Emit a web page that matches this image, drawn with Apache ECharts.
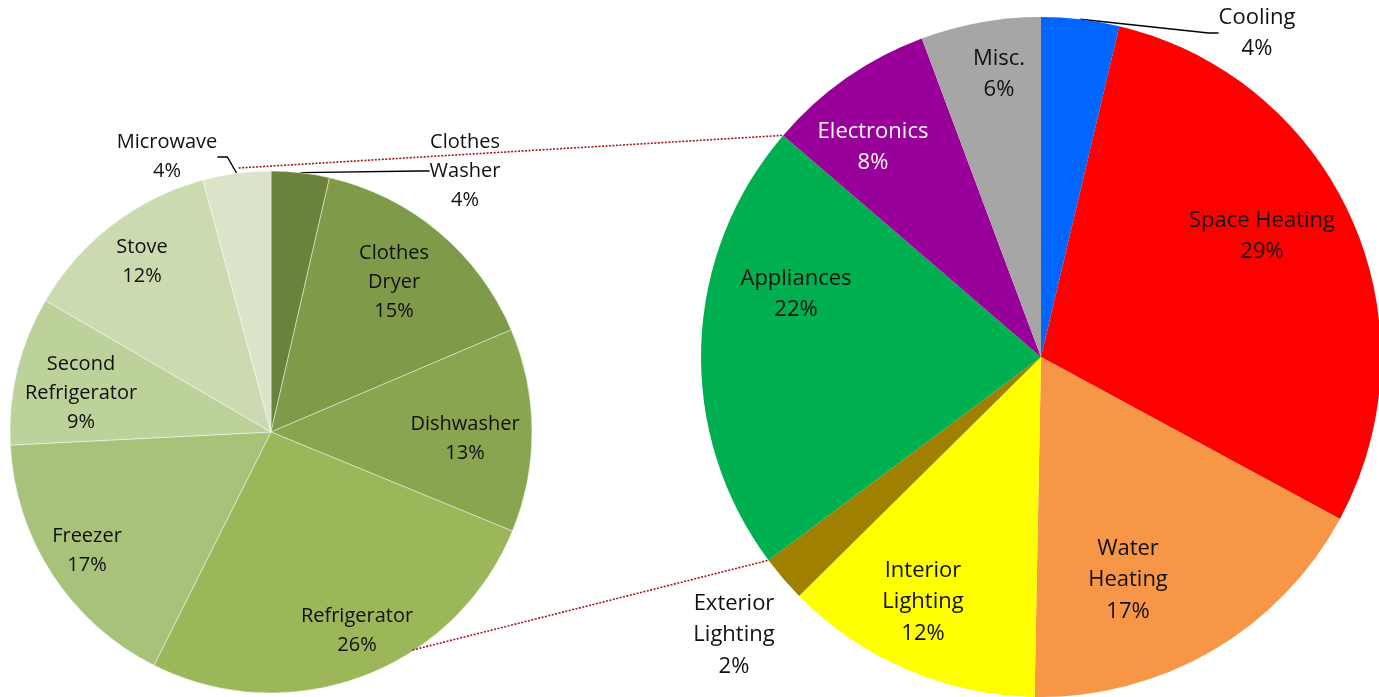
<!DOCTYPE html>
<html><head><meta charset="utf-8">
<script src="https://cdn.jsdelivr.net/npm/echarts@6/dist/echarts.min.js"></script>
<style>html,body{margin:0;padding:0;background:#fff}#chart{width:1379px;height:697px}</style>
</head><body><div id="chart"></div>
<script>
// ---- data ----
const leftCategories = ['Clothes\nWasher','Clothes\nDryer','Dishwasher','Refrigerator','Freezer','Second\nRefrigerator','Stove','Microwave'];
const leftValues = [3.6, 15.0, 12.6, 26.2, 16.8, 9.2, 12.4, 4.2];
const rightCategories = ['Cooling','Space Heating','Water\nHeating','Interior\nLighting','Exterior\nLighting','Appliances','Electronics','Misc.'];
const rightValues = [3.7, 29.2, 17.4, 12.3, 2.2, 21.5, 8.0, 5.7];

// ---- styles / layout ----
const leftColors = ['#6A823A','#7F9A48','#89A54F','#9BB75A','#A9C279','#BDD19B','#CCDAB1','#DAE4C9'];
const rightColors = ['#0066FF','#FF0000','#F79646','#FFFF00','#A08000','#00B050','#990099','#A6A6A6'];
const leftPie = {center:[271,432], r:261};
const rightPie = {center:[1041,357], r:340};
const leftLabelAt = [[465,171],[394,282],[465,439],[357,631],[87,551],[81,393],[142,262],[167,157]];
const rightLabelAt = [[1257,33],[1262,236],[1128,580],[923,602],[734,635],[796,294],[873,147],[999,74]];
const leftLeader = [true,false,false,false,false,false,false,true];
const rightLeader = [true,false,false,false,false,false,false,false];
const rightLabelColor = ['#111','#111','#111','#111','#111','#111','#ffffff','#111'];
const linkSlice = 5; // Appliances (index in right pie) is broken out into left pie
const leftLinkAngles = [353, 147];
const leftLinkR = [266, 260];

function polar(c, r, deg){ const a = deg*Math.PI/180; return [c[0] + r*Math.sin(a), c[1] - r*Math.cos(a)]; }

const total = rightValues.reduce((a,b)=>a+b,0);
let cumBefore = 0; for (let i=0;i<linkSlice;i++) cumBefore += rightValues[i];
const aStart = cumBefore/total*360, aEnd = (cumBefore+rightValues[linkSlice])/total*360;
const pRight1 = polar(rightPie.center, rightPie.r, aEnd);
const pRight2 = polar(rightPie.center, rightPie.r, aStart);
const pLeft1 = polar(leftPie.center, leftLinkR[0], leftLinkAngles[0]);
const pLeft2 = polar(leftPie.center, leftLinkR[1], leftLinkAngles[1]);

const fmt = p => p.name + '\n' + Math.round(p.value) + '%';

const leftData = leftCategories.map((name,i)=>({
  name, value: leftValues[i],
  itemStyle:{color:leftColors[i]},
  label:{position: leftLeader[i] ? 'outside' : 'inside'},
  labelLine:{show: leftLeader[i]}
}));
const rightData = rightCategories.map((name,i)=>({
  name, value: rightValues[i],
  itemStyle:{color:rightColors[i]},
  label:{position: (rightLeader[i] || i===4) ? 'outside' : 'inside', color: rightLabelColor[i]},
  labelLine:{show: rightLeader[i]}
}));

const chart = echarts.init(document.getElementById('chart'), null, {renderer:'canvas'});
chart.setOption({
  animation:false,
  backgroundColor:'#ffffff',
  graphic:[
    {type:'line', shape:{x1:pLeft1[0],y1:pLeft1[1],x2:pRight1[0],y2:pRight1[1]}, style:{stroke:'#A0191E', lineWidth:1.6, lineDash:[2,1.5]}, z:10},
    {type:'line', shape:{x1:pLeft2[0],y1:pLeft2[1],x2:pRight2[0],y2:pRight2[1]}, style:{stroke:'#A0191E', lineWidth:1.6, lineDash:[2,1.5]}, z:10}
  ],
  series:[
    {
      type:'pie', center:leftPie.center, radius:leftPie.r, startAngle:90, clockwise:true,
      avoidLabelOverlap:false, silent:true,
      itemStyle:{borderColor:'rgba(255,255,255,0.55)', borderWidth:0.8},
      label:{formatter:fmt, fontFamily:'Open Sans', fontSize:20, lineHeight:29, color:'#111', align:'center'},
      labelLine:{lineStyle:{color:'#000', width:1.4}, length:10, length2:10, smooth:false},
      labelLayout: p => ({x:leftLabelAt[p.dataIndex][0], y:leftLabelAt[p.dataIndex][1], align:'center', verticalAlign:'middle'}),
      data:leftData
    },
    {
      type:'pie', center:rightPie.center, radius:rightPie.r, startAngle:90, clockwise:true,
      avoidLabelOverlap:false, silent:true,
      itemStyle:{borderWidth:0},
      label:{formatter:fmt, fontFamily:'Open Sans', fontSize:22, lineHeight:31.5, color:'#111', align:'center'},
      labelLine:{lineStyle:{color:'#000', width:1.4}, length:10, length2:10, smooth:false},
      labelLayout: p => ({x:rightLabelAt[p.dataIndex][0], y:rightLabelAt[p.dataIndex][1], align:'center', verticalAlign:'middle'}),
      data:rightData
    }
  ]
});
</script>
</body></html>
